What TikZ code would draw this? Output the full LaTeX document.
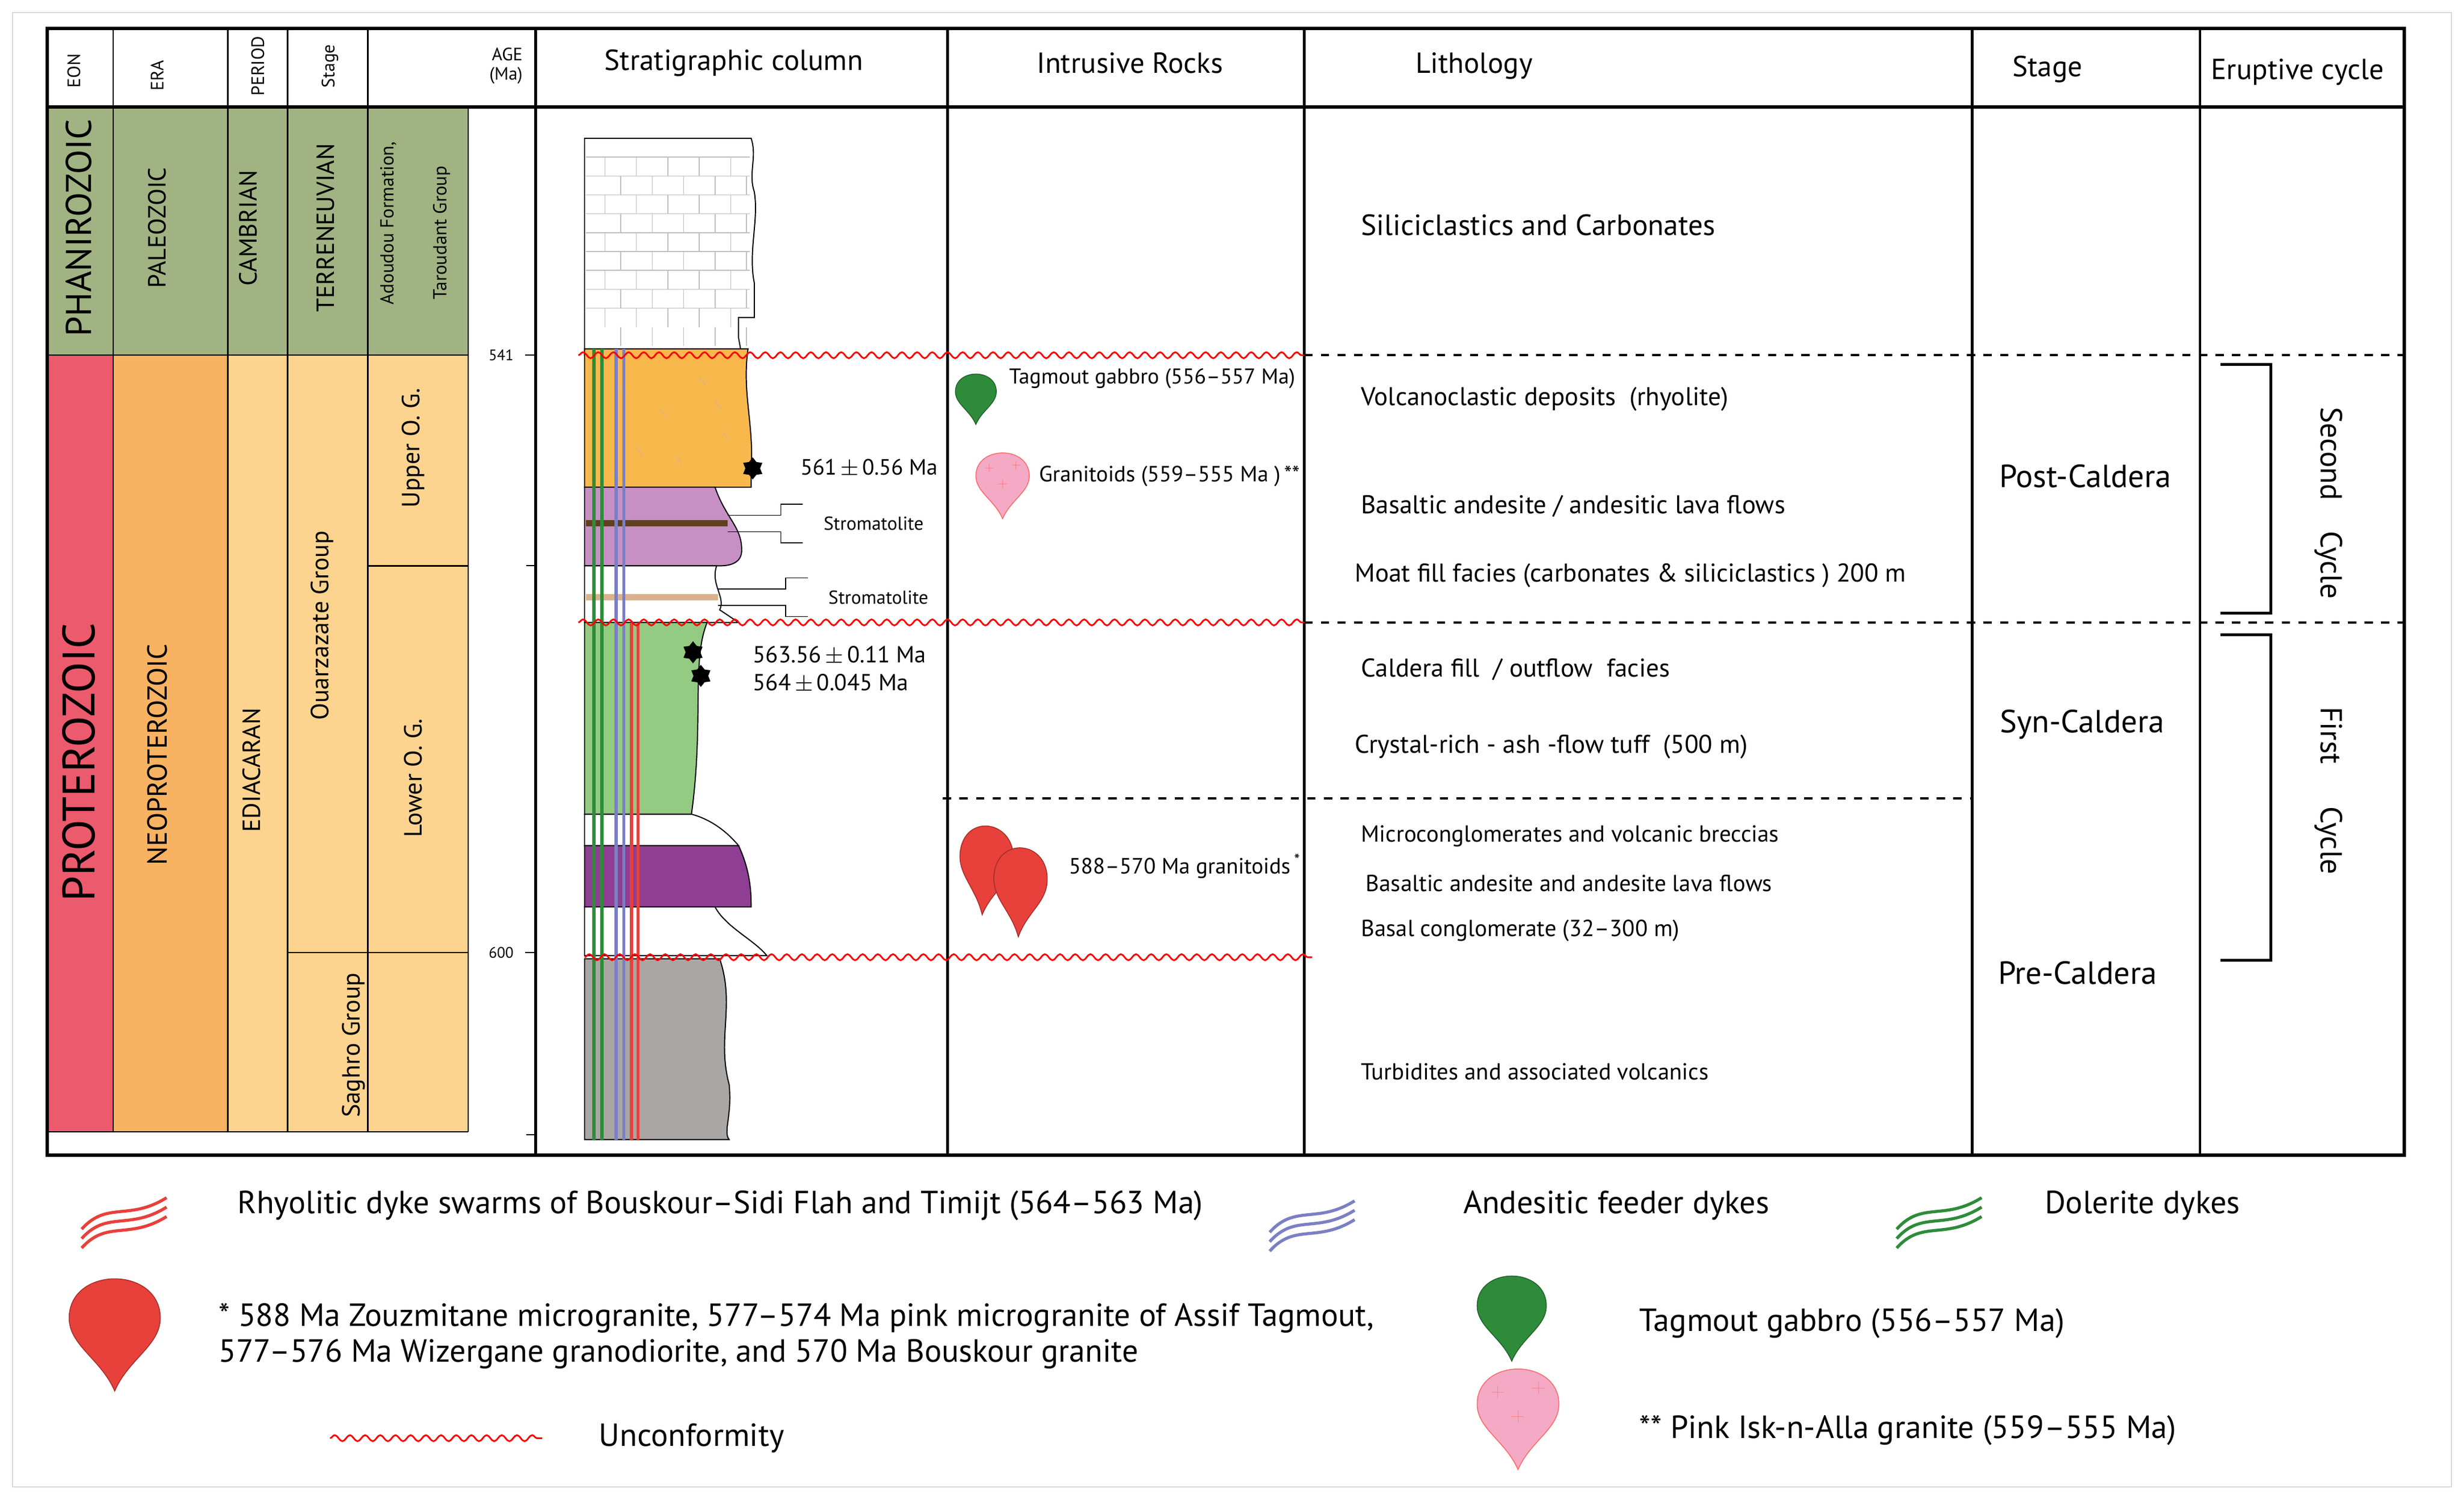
\documentclass[tikz,border=0pt]{standalone}
\usepackage{fontspec}
\setmainfont{PT Sans}
\usetikzlibrary{decorations.pathmorphing,shapes.geometric}
\definecolor{phan}{HTML}{A2B383}
\definecolor{prot}{HTML}{EC5A6E}
\definecolor{neop}{HTML}{F7B262}
\definecolor{edia}{HTML}{FDD48F}
\definecolor{lorange}{HTML}{F9B84C}
\definecolor{lpurple}{HTML}{C690C4}
\definecolor{lgreen}{HTML}{93CB82}
\definecolor{dpurple}{HTML}{8F3F93}
\definecolor{lgray}{HTML}{A9A6A4}
\definecolor{dgreen}{HTML}{2E8B3A}
\definecolor{dblue}{HTML}{7B7FC4}
\definecolor{dred}{HTML}{E8403A}
\definecolor{pinkg}{HTML}{F4A9C4}
\tikzset{
  hd/.style={font=\fontsize{10.5}{11}\selectfont},
  vt/.style={rotate=90,font=\fontsize{9}{10}\selectfont},
  lith/.style={anchor=west,font=\fontsize{9.3}{10}\selectfont},
  slith/.style={anchor=west,font=\fontsize{8.4}{9}\selectfont},
  small/.style={anchor=west,font=\fontsize{8}{9}\selectfont},
  leg/.style={anchor=west,font=\fontsize{11.6}{13}\selectfont},
  stg/.style={font=\fontsize{11.6}{12}\selectfont},
  unconf/.style={red,line width=0.6pt,decorate,decoration={snake,segment length=5.5pt,amplitude=1.1pt}},
  bound/.style={black,line width=0.9pt,dash pattern=on 3pt off 3pt},
  layer/.style={draw=black,line width=0.4pt},
  pics/drop/.style={code={
    \fill[#1,draw=#1!70!black,line width=0.3pt] (0,0) .. controls (-0.3,-0.7) and (-1,-1) .. (-1,-1.6)
      .. controls (-1,-2.75) and (1,-2.75) .. (1,-1.6) .. controls (1,-1) and (0.3,-0.7) .. (0,0) -- cycle;}},
  pics/pinkdrop/.style={code={
    \fill[pinkg,draw=red!60,line width=0.3pt] (0,0) .. controls (-0.3,-0.7) and (-1,-1) .. (-1,-1.6)
      .. controls (-1,-2.75) and (1,-2.75) .. (1,-1.6) .. controls (1,-1) and (0.3,-0.7) .. (0,0) -- cycle;
    \foreach \px/\py in {-0.5/-1.9,0.5/-2,0/-1.3}
      \draw[red!50,line width=0.2pt] (\px-0.15,\py) -- (\px+0.15,\py) (\px,\py-0.15) -- (\px,\py+0.15);}},
  pics/dykes/.style={code={
    \foreach \d in {0,6,12}
      \draw[#1,line width=1.1pt] (0,\d) .. controls (16,\d-18) and (30,\d-5) .. (54,\d-20);}}
}
\begin{document}
\begin{tikzpicture}[x=0.02cm,y=-0.02cm]
\useasboundingbox (0,0) rectangle (1568,954);
\draw[gray!30] (8,8) rectangle (1560,946);
% geological time columns
\fill[phan] (30,68) rectangle (298,226);
\fill[prot] (30,226) rectangle (72,720);
\fill[neop] (72,226) rectangle (145,720);
\fill[edia] (145,226) rectangle (298,720);
\foreach \x in {72,145,183,234}
  \draw[line width=0.5pt] (\x,18) -- (\x,720);
\draw[line width=0.5pt] (30,720) -- (298,720);
\draw[line width=0.5pt] (30,226) -- (298,226);
\draw[line width=0.5pt] (234,360) -- (298,360);
\draw[line width=0.5pt] (183,606) -- (298,606);
\draw[line width=0.5pt] (298,68) -- (298,720);
% frame and table
\draw[line width=1.2pt] (30,18) rectangle (1530,735);
\draw[line width=1.2pt] (30,68) -- (1530,68);
\foreach \x in {341,603,830,1255,1400}
  \draw[line width=1pt] (\x,18) -- (\x,735);
% header
\node[vt,font=\fontsize{6.5}{7}\selectfont] (hEon) at (47,45) {EON};
\node[vt,font=\fontsize{6.5}{7}\selectfont] (hEra) at (100,48) {ERA};
\node[vt,font=\fontsize{6.5}{7}\selectfont] (hPer) at (164,42) {PERIOD};
\node[vt,font=\fontsize{6.5}{7}\selectfont] (hSta) at (210,42) {Stage};
\node[font=\fontsize{6.5}{7}\selectfont,align=right] (hAge) at (322,42) {AGE\\(Ma)};
\node[hd] (hStrat) at (467,40) {Stratigraphic column};
\node[hd] (hIntr) at (719,40) {Intrusive Rocks};
\node[hd] (hLith) at (938,42) {Lithology};
\node[hd] (hStage) at (1303,44) {Stage};
\node[hd] (hErup) at (1462,46) {Eruptive cycle};
% rotated labels
\node[vt,font=\fontsize{13}{14}\selectfont] (phz) at (50,145) {PHANIROZOIC};
\node[vt] (pal) at (100,145) {PALEOZOIC};
\node[vt] (cam) at (158,145) {CAMBRIAN};
\node[vt] (ter) at (207,145) {TERRENEUVIAN};
\node[vt,font=\fontsize{6.8}{7}\selectfont] (ado) at (247,142) {Adoudou Formation,};
\node[vt,font=\fontsize{6.8}{7}\selectfont] (tar) at (281,148) {Taroudant Group};
\node[vt,font=\fontsize{16.5}{17}\selectfont] (prz) at (50,485) {PROTEROZOIC};
\node[vt,font=\fontsize{10}{11}\selectfont] (neo) at (100,480) {NEOPROTEROZOIC};
\node[vt,font=\fontsize{9}{10}\selectfont] (edi) at (160,490) {EDIACARAN};
\node[vt] (oua) at (205,398) {Ouarzazate Group};
\node[vt] (uog) at (263,285) {Upper O. G.};
\node[vt] (log) at (263,495) {Lower O. G.};
\node[vt] (sag) at (225,665) {Saghro Group};
% ages
\foreach \y/\t in {226/541,606/600}{
  \node[font=\fontsize{5.5}{6}\selectfont,anchor=east] (age\t) at (333,\y) {\t};
  \draw[line width=0.4pt] (334,\y) -- (341,\y);}
\foreach \y in {360,722}
  \draw[line width=0.4pt] (335,\y) -- (341,\y);
% stratigraphic column
\fill[white,layer] (372,88) -- (478,88) .. controls (482,100) and (476,110) .. (480,122)
  .. controls (483,140) and (476,160) .. (480,180) -- (480,202) -- (470,202) -- (470,215) -- (472,226) -- (372,226) -- cycle;
\foreach \y in {100,112,...,196}
  \draw[gray!50,line width=0.3pt] (373,\y) -- (477,\y);
\foreach \y in {100,124,...,196}
  \foreach \x in {385,405,...,465}
    \draw[gray!50,line width=0.3pt] (\x,\y) -- (\x,\y+12) (\x+10,\y+12) -- (\x+10,\y+24);
\fill[lorange,layer] (372,222) -- (476,222) .. controls (472,250) and (480,270) .. (478,300) -- (478,310) -- (372,310) -- cycle;
\foreach \px/\py in {395/245,420/260,445/240,430/290,460/275,405/285,455/255,390/300}
  \draw[brown!60,line width=0.3pt] (\px,\py) -- ++(4,5);
\fill[lpurple,layer] (372,310) -- (455,310) .. controls (462,330) and (472,335) .. (472,350)
  .. controls (472,358) and (465,360) .. (458,360) -- (372,360) -- cycle;
\fill[black!50!brown] (373,331) rectangle (463,335);
\fill[white,layer] (372,360) -- (456,360) .. controls (452,372) and (462,380) .. (458,388) -- (470,396) -- (372,396) -- cycle;
\fill[brown!60] (373,378) rectangle (457,382);
\fill[lgreen,layer] (372,396) -- (450,396) .. controls (440,420) and (448,460) .. (440,518) -- (372,518) -- cycle;
\fill[white,layer] (372,518) -- (440,518) .. controls (455,522) and (465,532) .. (470,538) -- (372,538) -- cycle;
\fill[dpurple,layer] (372,538) -- (470,538) .. controls (478,555) and (478,570) .. (478,577) -- (372,577) -- cycle;
\fill[white,layer] (372,577) -- (455,577) .. controls (462,590) and (480,598) .. (488,608) -- (372,608) -- cycle;
\fill[lgray,layer] (372,610) -- (458,610) .. controls (468,640) and (456,660) .. (464,690) .. controls (466,710) and (460,720) .. (464,725) -- (372,725) -- cycle;
% dykes
\foreach \x/\c/\t in {378/dgreen/222,383/dgreen/222,392/dblue/222,397/dblue/222,402/dred/396,406/dred/396}
  \draw[\c,line width=1.2pt] (\x,\t) -- (\x,725);
% stars
\foreach \sx/\sy/\n in {479/298/s1,441/415/s2,446/430/s3}
  \node[star,star points=6,fill=black,inner sep=0pt,minimum size=8pt] (\n) at (\sx,\sy) {};
\node[font=\fontsize{8}{9}\selectfont] (d561) at (553,298) {561\,$\pm$\,0.56 Ma};
\node[font=\fontsize{8.4}{10}\selectfont,anchor=west,align=left] (d563) at (473,426) {563.56\,$\pm$\,0.11 Ma\\564\,$\pm$\,0.045 Ma};
% stromatolites
\node[small,font=\fontsize{6.8}{7}\selectfont] (str1) at (518,333) {Stromatolite};
\node[small,font=\fontsize{6.8}{7}\selectfont] (str2) at (521,380) {Stromatolite};
\coordinate (b1) at (463,333);
\coordinate (b2) at (457,380);
\foreach \b/\s in {b1/str1,b2/str2}{
  \draw[line width=0.3pt] ([yshift=-3]\b) -- ([xshift=-12,yshift=-3]\s.west) -- ([xshift=-12,yshift=-7]\s.west) -- ([xshift=-4,yshift=-7]\s.west);
  \draw[line width=0.3pt] ([yshift=3]\b) -- ([xshift=-12,yshift=3]\s.west) -- ([xshift=-12,yshift=7]\s.west) -- ([xshift=-4,yshift=7]\s.west);}
% boundaries
\draw[bound] (830,226) -- (1530,226);
\draw[bound] (830,396) -- (1530,396);
\draw[bound] (600,508) -- (1255,508);
\draw[unconf] (368,226) -- (830,226);
\draw[unconf] (368,396) -- (830,396);
\draw[unconf] (372,609) -- (835,609);
% intrusive rocks
\pic[scale=13] at (621,270) {drop=dgreen};
\pic[scale=17] at (638,330) {pinkdrop};
\pic[xscale=17,yscale=23,rotate=-6] at (625,582) {drop=dred};
\pic[xscale=17,yscale=23,rotate=-3] at (648,596) {drop=dred};
\node[small,font=\fontsize{7.8}{9}\selectfont] (tag) at (636,241) {Tagmout gabbro (556–557 Ma)};
\node[small] (gra) at (655,303) {Granitoids (559–555 Ma )\,**};
\node[small] (g588) at (674,551) {588–570 Ma granitoids\,\textsuperscript{*}};
% lithology
\node[lith,font=\fontsize{10.6}{12}\selectfont] (l1) at (860,143) {Siliciclastics and Carbonates};
\node[lith] (l2) at (860,254) {Volcanoclastic deposits\ \ (rhyolite)};
\node[lith] (l3) at (860,322) {Basaltic andesite / andesitic lava flows};
\node[lith] (l4) at (856,366) {Moat fill facies (carbonates \& siliciclastics ) 200 m};
\node[lith] (l5) at (860,426) {Caldera fill\ \ / outflow\ \ facies};
\node[lith] (l6) at (856,475) {Crystal-rich - ash -flow tuff\ \ (500 m)};
\node[slith] (l7) at (860,532) {Microconglomerates and volcanic breccias};
\node[slith] (l8) at (863,562) {Basaltic andesite and andesite lava flows};
\node[slith] (l9) at (860,592) {Basal conglomerate (32–300 m)};
\node[slith] (l10) at (860,682) {Turbidites and associated volcanics};
% stages
\node[stg] (post) at (1327,303) {Post-Caldera};
\node[stg] (syn) at (1325,461) {Syn-Caldera};
\node[stg] (pre) at (1322,619) {Pre-Caldera};
% eruptive cycles
\draw[line width=1pt] (1413,232) -- (1445,232) -- (1445,390) -- (1413,390);
\draw[line width=1pt] (1413,404) -- (1445,404) -- (1445,611) -- (1413,611);
\node[rotate=-90,font=\fontsize{11}{12}\selectfont] (cyc2) at (1482,320) {Second\hspace{1em}Cycle};
\node[rotate=-90,font=\fontsize{11}{12}\selectfont] (cyc1) at (1482,503) {First\hspace{1.4em}Cycle};
% legend
\pic at (52,782) {dykes=dred};
\pic at (808,784) {dykes=dblue};
\pic at (1207,782) {dykes=dgreen};
\node[leg] (lRhy) at (145,767) {Rhyolitic dyke swarms of Bouskour–Sidi Flah and Timijt (564–563 Ma)};
\node[leg] (lAnd) at (925,767) {Andesitic feeder dykes};
\node[leg] (lDol) at (1295,767) {Dolerite dykes};
\pic[scale=29] at (73,885) {drop=dred};
\node[leg,align=left] (lGra) at (133,850) {* 588 Ma Zouzmitane microgranite, 577–574 Ma pink microgranite of Assif Tagmout,\\577–576 Ma Wizergane granodiorite, and 570 Ma Bouskour granite};
\pic[scale=22] at (962,866) {drop=dgreen};
\node[leg] (lTag) at (1037,842) {Tagmout gabbro (556–557 Ma)};
\pic[scale=26] at (966,935) {pinkdrop};
\node[leg] (lPink) at (1037,910) {** Pink Isk-n-Alla granite (559–555 Ma)};
\coordinate (u1) at (210,915);
\coordinate (u2) at (345,915);
\draw[unconf] (u1) -- (u2);
\node[leg] (lUnc) at (375,915) {Unconformity};
\end{tikzpicture}
\end{document}
